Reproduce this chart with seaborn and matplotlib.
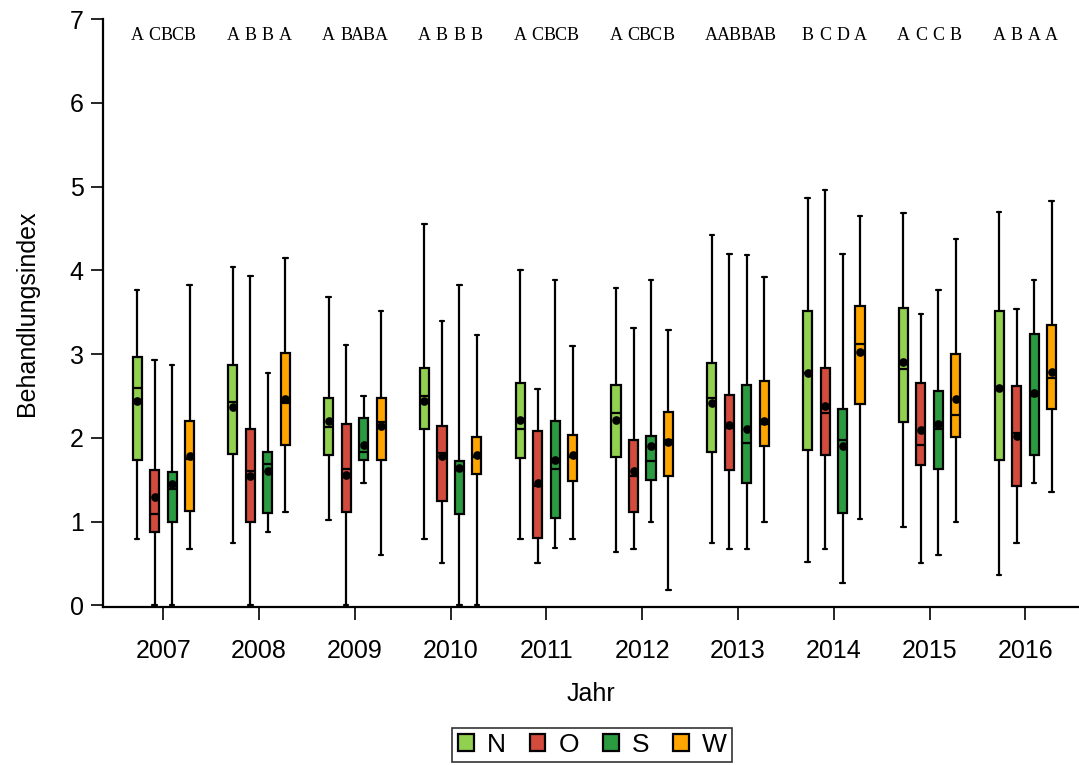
import pandas as pd
import numpy as np
import matplotlib.pyplot as plt
import seaborn as sns

years = ['2007', '2008', '2009', '2010', '2011', '2012', '2013', '2014', '2015', '2016']
dirs = ['N', 'O', 'S', 'W']
colors = ['#92d050', '#d24b3c', '#2a9b40', '#ffa500']

# five-number summaries per direction, one value per year
n_min = [0.79, 0.75, 1.02, 0.79, 0.79, 0.64, 0.75, 0.52, 0.94, 0.36]
n_q1 = [1.74, 1.81, 1.79, 2.10, 1.76, 1.77, 1.83, 1.85, 2.19, 1.73]
n_med = [2.60, 2.43, 2.13, 2.50, 2.10, 2.30, 2.48, 2.78, 2.82, 2.60]
n_q3 = [2.96, 2.87, 2.47, 2.83, 2.65, 2.63, 2.89, 3.52, 3.55, 3.51]
n_max = [3.77, 4.04, 3.68, 4.55, 4.00, 3.79, 4.42, 4.87, 4.69, 4.70]
n_mean = [2.44, 2.37, 2.20, 2.44, 2.21, 2.21, 2.42, 2.78, 2.91, 2.60]

o_min = [0.0, 0.0, 0.0, 0.50, 0.50, 0.67, 0.67, 0.67, 0.50, 0.74]
o_q1 = [0.87, 1.00, 1.11, 1.25, 0.80, 1.12, 1.62, 1.79, 1.68, 1.43]
o_med = [1.09, 1.61, 1.63, 1.82, 1.43, 1.54, 2.12, 2.30, 1.91, 2.06]
o_q3 = [1.62, 2.10, 2.17, 2.14, 2.08, 1.98, 2.51, 2.84, 2.66, 2.62]
o_max = [2.93, 3.93, 3.11, 3.40, 2.58, 3.31, 4.19, 4.96, 3.48, 3.54]
o_mean = [1.29, 1.54, 1.56, 1.78, 1.46, 1.60, 2.15, 2.38, 2.09, 2.02]

s_min = [0.0, 0.87, 1.46, 0.0, 0.69, 1.00, 0.67, 0.27, 0.60, 1.46]
s_q1 = [1.00, 1.10, 1.73, 1.09, 1.04, 1.50, 1.46, 1.10, 1.63, 1.79]
s_med = [1.39, 1.69, 1.83, 1.63, 1.63, 1.72, 1.94, 1.98, 2.10, 2.50]
s_q3 = [1.59, 1.83, 2.24, 1.72, 2.20, 2.02, 2.63, 2.34, 2.56, 3.24]
s_max = [2.87, 2.77, 2.50, 3.82, 3.89, 3.88, 4.18, 4.20, 3.77, 3.89]
s_mean = [1.45, 1.61, 1.92, 1.64, 1.73, 1.90, 2.11, 1.90, 2.17, 2.54]

w_min = [0.67, 1.12, 0.60, 0.0, 0.79, 0.18, 1.00, 1.03, 1.00, 1.35]
w_q1 = [1.13, 1.91, 1.73, 1.57, 1.48, 1.54, 1.90, 2.40, 2.01, 2.34]
w_med = [1.75, 2.42, 2.19, 1.77, 1.77, 1.97, 2.17, 3.12, 2.27, 2.71]
w_q3 = [2.20, 3.01, 2.47, 2.01, 2.04, 2.31, 2.68, 3.58, 3.00, 3.35]
w_max = [3.82, 4.15, 3.52, 3.23, 3.10, 3.29, 3.92, 4.65, 4.37, 4.83]
w_mean = [1.78, 2.46, 2.14, 1.80, 1.80, 1.95, 2.20, 3.03, 2.46, 2.79]

# significance letters (N, O, S, W) per year
letters = [['A', 'C', 'BC', 'B'], ['A', 'B', 'B', 'A'], ['A', 'B', 'AB', 'A'],
           ['A', 'B', 'B', 'B'], ['A', 'C', 'BC', 'B'], ['A', 'C', 'BC', 'B'],
           ['A', 'AB', 'B', 'AB'], ['B', 'C', 'D', 'A'], ['A', 'C', 'C', 'B'],
           ['A', 'B', 'A', 'A']]

summaries = {
    'N': (n_min, n_q1, n_med, n_q3, n_max, n_mean),
    'O': (o_min, o_q1, o_med, o_q3, o_max, o_mean),
    'S': (s_min, s_q1, s_med, s_q3, s_max, s_mean),
    'W': (w_min, w_q1, w_med, w_q3, w_max, w_mean),
}

rows = []
mean_rows = []
for d in dirs:
    mins, q1s, meds, q3s, maxs, means = summaries[d]
    for i, y in enumerate(years):
        for v in (mins[i], q1s[i], meds[i], q3s[i], maxs[i]):
            rows.append({'Jahr': y, 'Richtung': d, 'Wert': v})
        mean_rows.append({'Jahr': y, 'Richtung': d, 'Wert': means[i]})
df = pd.DataFrame(rows)
df_mean = pd.DataFrame(mean_rows)

sns.set_style('ticks')
plt.rcParams['font.family'] = ['Liberation Sans', 'DejaVu Sans']
plt.rcParams['text.color'] = 'black'
plt.rcParams['axes.labelcolor'] = 'black'
plt.rcParams['axes.edgecolor'] = 'black'
plt.rcParams['xtick.color'] = 'black'
plt.rcParams['ytick.color'] = 'black'

fig = plt.figure(figsize=(10.79, 7.65), dpi=100)
ax = fig.add_axes([0.0955, 0.2065, 0.9045, 0.7685])

box_width = 0.73
slot = box_width / len(dirs)

sns.boxplot(data=df, x='Jahr', y='Wert', hue='Richtung', order=years, hue_order=dirs,
            palette=colors, width=box_width, gap=0.48, whis=(0, 100),
            linecolor='black', linewidth=1.6, saturation=1, ax=ax, legend=True)

sns.pointplot(data=df_mean, x='Jahr', y='Wert', hue='Richtung', order=years, hue_order=dirs,
              palette=['black'] * 4, dodge=slot * 3, linestyle='none', markers='o',
              markersize=4.2, errorbar=None, ax=ax, legend=False)

for i, labs in enumerate(letters):
    for j, lab in enumerate(labs):
        ax.text(i + (j - 1.5) * slot, 6.8, lab, ha='center', va='center',
                fontsize=13, family='Liberation Serif')

ax.set_ylim(-0.02, 7)
ax.set_xlim(-0.63, 9.56)
ax.set_yticks(range(0, 8))
sns.despine(ax=ax)
for s in ['left', 'bottom']:
    ax.spines[s].set_linewidth(1.6)
ax.tick_params(axis='both', labelsize=18, width=1.2, length=9)
ax.tick_params(axis='x', pad=14)
ax.tick_params(axis='y', pad=5)
ax.set_xlabel('Jahr', fontsize=18, labelpad=14)
ax.set_ylabel('Behandlungsindex', fontsize=18, labelpad=22)

handles, labels = ax.get_legend_handles_labels()
ax.legend_.remove()
leg = fig.legend(handles[:4], labels[:4], loc='lower center', bbox_to_anchor=(0.549, 0.0),
                 ncol=4, fontsize=19, frameon=True, fancybox=False, edgecolor='black',
                 handlelength=0.6, handleheight=0.6, handletextpad=0.5, columnspacing=0.9,
                 borderpad=0.2, borderaxespad=0.1)
leg.get_frame().set_linewidth(1.2)

fig.savefig('out.png', dpi=100)
